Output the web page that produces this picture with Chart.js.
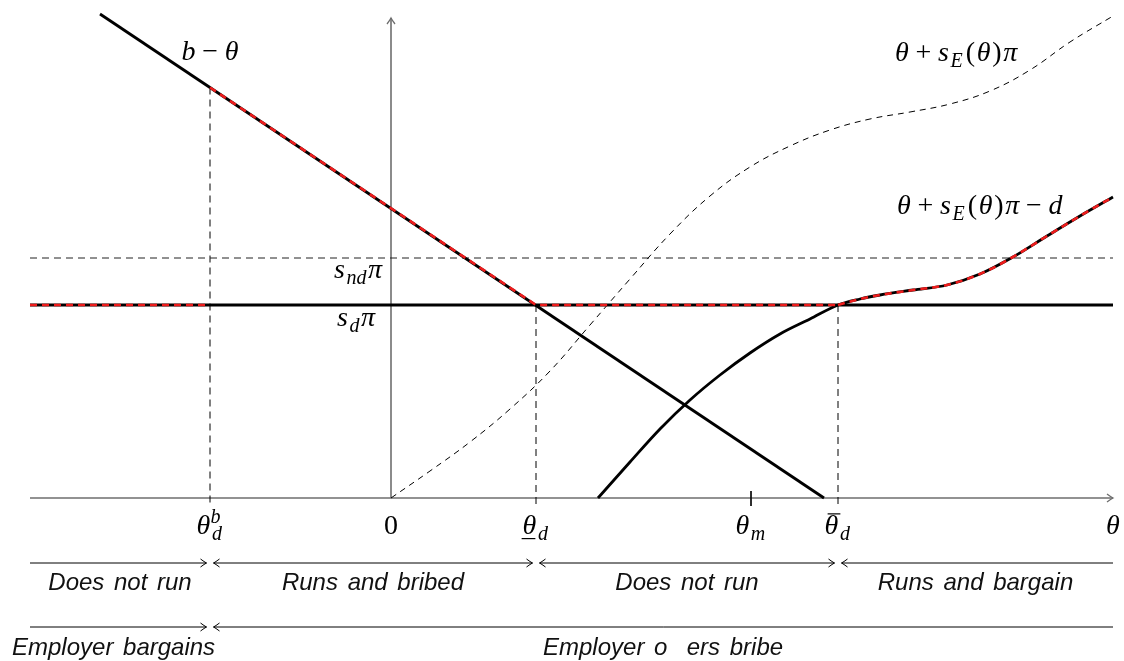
<!DOCTYPE html>
<html><head><meta charset="utf-8">
<script src="https://cdn.jsdelivr.net/npm/chart.js@4/dist/chart.umd.min.js"></script>
<style>html,body{margin:0;padding:0;background:#fff;overflow:hidden}#wrap{width:1124px;height:661px;position:relative}</style>
</head><body><div id="wrap"><canvas id="c"></canvas></div>
<script>
// ---- data (in θ units) ----
const xLeft = -3.61, xRight = 7.22, yTop = 4.80;
const thetaDB = -1.81, thetaD = 1.45, thetaM = 3.60, thetaBarD = 4.47;
const sdPi = 1.93, sndPi = 2.40;
const bLineX = [-2.91, 4.33];
const bLineY = [4.84, 0];
const bAtThetaDB = 4.105;
const dashedCurveX = [0, 0.39, 0.79, 1.19, 1.59, 1.99, 2.39, 2.79, 3.19, 3.59, 3.99, 4.39, 4.79, 5.19, 5.59, 5.99, 6.39, 6.79, 7.22];
const dashedCurveY = [0, 0.27, 0.56, 0.89, 1.27, 1.73, 2.19, 2.64, 3.02, 3.31, 3.52, 3.68, 3.79, 3.86, 3.94, 4.07, 4.28, 4.56, 4.82];
const solidCurveX = [2.07, 2.39, 2.69, 2.99, 3.29, 3.59, 3.89, 4.19, 4.47, 4.69, 4.89, 5.22, 5.56, 5.89, 6.22, 6.56, 6.89, 7.22];
const solidCurveY = [0, 0.36, 0.69, 0.98, 1.23, 1.45, 1.64, 1.79, 1.93, 1.99, 2.03, 2.08, 2.13, 2.24, 2.41, 2.62, 2.82, 3.01];
const regionBounds = [xLeft, thetaDB, thetaD, thetaBarD, xRight];
const regionLabels = ['Does not run', 'Runs and bribed', 'Does not run', 'Runs and bargain'];
const employerBounds = [xLeft, thetaDB, xRight];
const employerLabels = ['Employer bargains', 'Employer o  ers bribe'];

// ---- layout/style constants ----
const AXIS = '#6e6e6e', RED = '#ee1c1c';
const MATH = 28, SANS = 24;
const ROW1_Y = -0.65, ROW2_Y = -1.29, ROW1_TXT = -0.92, ROW2_TXT = -1.57;
const TICK_TXT = -0.36;

const pts = (xs, ys) => xs.map((x, i) => ({x, y: ys[i]}));
function ds(data, o) {
  return Object.assign({data, showLine: true, pointRadius: 0, pointHoverRadius: 0, fill: false,
    tension: 0, borderColor: '#000', borderWidth: 1}, o);
}
const solidPts = pts(solidCurveX, solidCurveY);
const redCurvePts = solidPts.filter(p => p.x >= thetaBarD);

const datasets = [
  ds([{x: xLeft, y: 0}, {x: xRight, y: 0}], {borderColor: AXIS, borderWidth: 1.6, order: 20}),
  ds([{x: 0, y: 0}, {x: 0, y: yTop}], {borderColor: AXIS, borderWidth: 1.6, order: 20}),
  ds([{x: xLeft, y: sndPi}, {x: xRight, y: sndPi}], {borderColor: '#222', borderDash: [7, 5], order: 15}),
  ds([{x: thetaDB, y: bAtThetaDB}, {x: thetaDB, y: -0.08}], {borderColor: '#000', borderDash: [7, 5], order: 15}),
  ds([{x: thetaD, y: sdPi}, {x: thetaD, y: -0.08}], {borderColor: '#000', borderDash: [7, 5], order: 15}),
  ds([{x: thetaBarD, y: sdPi}, {x: thetaBarD, y: -0.08}], {borderColor: '#000', borderDash: [7, 5], order: 15}),
  ds([{x: thetaM, y: 0.07}, {x: thetaM, y: -0.08}], {borderColor: '#111', order: 15}),
  ds(pts(dashedCurveX, dashedCurveY), {borderColor: '#000', borderDash: [6, 5], tension: 0.4, order: 14}),
  ds([{x: xLeft, y: sdPi}, {x: xRight, y: sdPi}], {borderWidth: 2.8, order: 10}),
  ds(pts(bLineX, bLineY), {borderWidth: 2.8, order: 10}),
  ds(solidPts, {borderWidth: 2.8, cubicInterpolationMode: 'monotone', order: 10}),
  ds([{x: xLeft, y: sdPi}, {x: thetaDB, y: sdPi}], {borderColor: RED, borderWidth: 2.6, borderDash: [7, 5], order: 1}),
  ds([{x: thetaDB, y: bAtThetaDB}, {x: thetaD, y: sdPi}, {x: thetaBarD, y: sdPi}], {borderColor: RED, borderWidth: 2.6, borderDash: [7, 5], order: 1}),
  ds(redCurvePts, {borderColor: RED, borderWidth: 2.6, borderDash: [7, 5], cubicInterpolationMode: 'monotone', order: 1})
];

// ---- text helpers ----
function layoutRich(ctx, parts, size) {
  let total = 0;
  const items = parts.map(([t, k]) => {
    const small = (k === 'sub' || k === 'sup' || k === 'sup0');
    const italic = !(k === 'r' || k === 'op');
    const fs = small ? Math.round(size * 0.7) : size;
    const font = `${italic ? 'italic ' : ''}${fs}px "Liberation Serif"`;
    ctx.font = font;
    const w = ctx.measureText(t).width;
    const pad = k === 'op' ? size * 0.24 : k === 'r' ? size * 0.06 : k === 'sub' ? 1.5 : 0;
    const dy = k === 'sub' ? size * 0.2 : (k === 'sup' || k === 'sup0') ? -size * 0.38 : 0;
    const adv = k === 'sup0' ? 0 : w + 2 * pad;
    total += adv;
    return {t, k, font, w, pad, dy, adv};
  });
  return {items, total};
}
function drawRich(ctx, parts, x, y, align, size) {
  const {items, total} = layoutRich(ctx, parts, size);
  let cx = align === 'center' ? x - total / 2 : align === 'right' ? x - total : x;
  ctx.textAlign = 'left'; ctx.textBaseline = 'alphabetic'; ctx.fillStyle = '#000';
  for (const it of items) {
    ctx.font = it.font;
    ctx.fillText(it.t, cx + it.pad, y + it.dy);
    if (it.k === 'iu') { ctx.fillRect(cx - 1, y + 4, it.w, 1.2); }
    if (it.k === 'ib') { ctx.fillRect(cx + 3, y - size * 0.74, it.w - 1, 1.2); }
    cx += it.adv;
  }
}
function arrowHead(ctx, x, y, dir) {
  ctx.save(); ctx.translate(x, y); ctx.rotate(dir);
  ctx.beginPath();
  ctx.moveTo(-6, -4); ctx.quadraticCurveTo(-2, -1, 0, 0); ctx.quadraticCurveTo(-2, 1, -6, 4);
  ctx.stroke(); ctx.restore();
}
function segArrow(ctx, x1, x2, y, leftTip, rightTip) {
  ctx.beginPath(); ctx.moveTo(x1, y); ctx.lineTo(x2, y); ctx.stroke();
  if (rightTip) arrowHead(ctx, x2, y, 0);
  if (leftTip) arrowHead(ctx, x1, y, Math.PI);
}

const mathLabels = [
  {parts: [['b', 'i'], ['−', 'op'], ['θ', 'i']], x: -1.81, y: 4.38, align: 'center'},
  {parts: [['θ', 'i'], ['+', 'op'], ['s', 'i'], ['E', 'sub'], ['(', 'r'], ['θ', 'i'], [')', 'r'], ['π', 'i']], x: 5.04, y: 4.37, align: 'left'},
  {parts: [['θ', 'i'], ['+', 'op'], ['s', 'i'], ['E', 'sub'], ['(', 'r'], ['θ', 'i'], [')', 'r'], ['π', 'i'], ['−', 'op'], ['d', 'i']], x: 5.06, y: 2.84, align: 'left'},
  {parts: [['s', 'i'], ['nd', 'sub'], ['π', 'i']], x: -0.09, y: 2.20, align: 'right'},
  {parts: [['s', 'i'], ['d', 'sub'], ['π', 'i']], x: -0.16, y: 1.72, align: 'right'},
  {parts: [['θ', 'i'], ['b', 'sup0'], ['d', 'sub']], x: thetaDB, y: TICK_TXT, align: 'center'},
  {parts: [['0', 'r']], x: 0, y: TICK_TXT, align: 'center'},
  {parts: [['θ', 'iu'], ['d', 'sub']], x: thetaD, y: TICK_TXT, align: 'center'},
  {parts: [['θ', 'i'], ['m', 'sub']], x: thetaM, y: TICK_TXT, align: 'center'},
  {parts: [['θ', 'ib'], ['d', 'sub']], x: thetaBarD, y: TICK_TXT, align: 'center'},
  {parts: [['θ', 'i']], x: xRight, y: TICK_TXT, align: 'center'}
];

const decor = {
  id: 'decor',
  afterDatasetsDraw(chart) {
    const {ctx} = chart; const sx = chart.scales.x, sy = chart.scales.y;
    const X = v => sx.getPixelForValue(v), Y = v => sy.getPixelForValue(v);
    ctx.save();
    ctx.strokeStyle = AXIS; ctx.lineWidth = 1.3;
    arrowHead(ctx, X(xRight), Y(0), 0);
    arrowHead(ctx, X(0), Y(yTop), -Math.PI / 2);
    // region arrows
    ctx.strokeStyle = '#000'; ctx.lineWidth = 1;
    const g = 3.5;
    for (let i = 0; i < regionLabels.length; i++) {
      const a = X(regionBounds[i]) + (i > 0 ? g : 0), b = X(regionBounds[i + 1]) - (i < regionLabels.length - 1 ? g : 0);
      segArrow(ctx, a, b, Y(ROW1_Y), i > 0, i < regionLabels.length - 1);
    }
    for (let i = 0; i < employerLabels.length; i++) {
      const a = X(employerBounds[i]) + (i > 0 ? g : 0), b = X(employerBounds[i + 1]) - (i < employerLabels.length - 1 ? g : 0);
      segArrow(ctx, a, b, Y(ROW2_Y), i > 0, i < employerLabels.length - 1);
    }
    ctx.fillStyle = '#111';
    ctx.font = `italic ${SANS}px "Liberation Sans"`;
    try { ctx.wordSpacing = '3px'; } catch (e) {}
    ctx.textBaseline = 'alphabetic';
    ctx.textAlign = 'center';
    regionLabels.forEach((t, i) => ctx.fillText(t, (X(regionBounds[i]) + X(regionBounds[i + 1])) / 2, Y(ROW1_TXT)));
    ctx.textAlign = 'left';
    const empX = [-3.79, 1.52];
    employerLabels.forEach((t, i) => ctx.fillText(t, X(empX[i]), Y(ROW2_TXT)));
    try { ctx.wordSpacing = '0px'; } catch (e) {}
    for (const L of mathLabels) drawRich(ctx, L.parts, X(L.x), Y(L.y), L.align, MATH);
    ctx.restore();
  }
};

new Chart(document.getElementById('c'), {
  type: 'scatter',
  data: {datasets},
  options: {
    responsive: true, maintainAspectRatio: false, animation: false,
    layout: {padding: 0},
    events: [],
    plugins: {legend: {display: false}, tooltip: {enabled: false}},
    scales: {
      x: {type: 'linear', min: -3.91, max: 7.33, display: false},
      y: {type: 'linear', min: -1.63, max: 4.98, display: false}
    }
  },
  plugins: [decor]
});
</script></body></html>
